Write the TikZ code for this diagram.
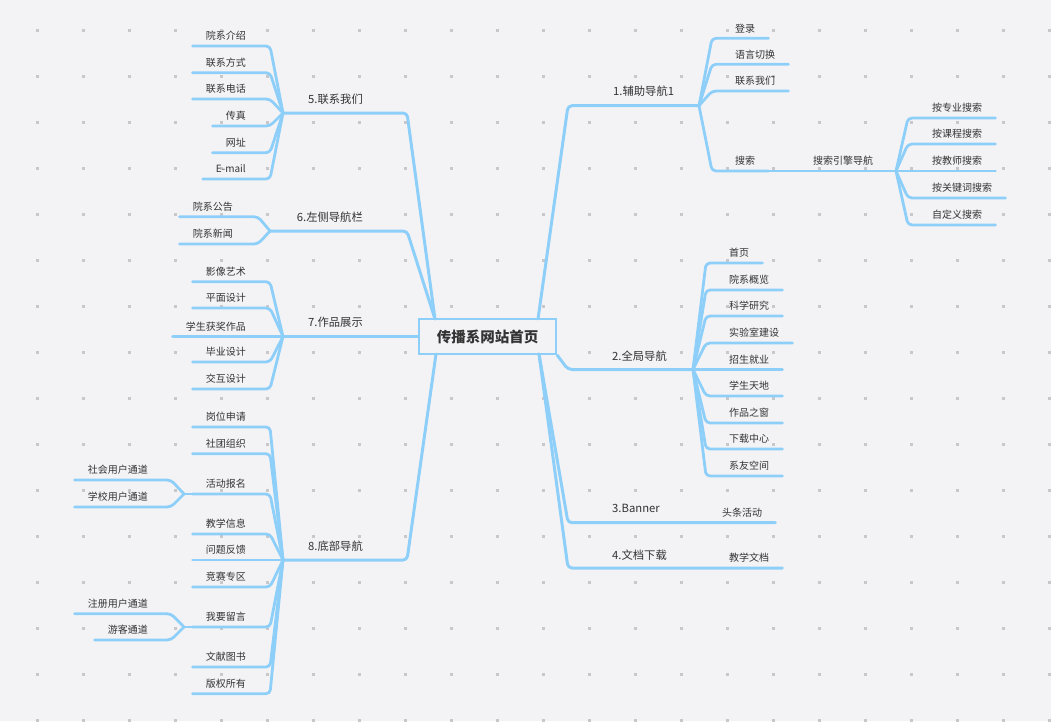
\documentclass[tikz,border=0pt]{standalone}
\usepackage{fontspec}
\setmainfont{Noto Sans CJK SC}
\definecolor{bgc}{RGB}{243,243,246}
\definecolor{dotc}{RGB}{200,200,202}
\definecolor{linec}{RGB}{142,207,249}
\definecolor{txtc}{RGB}{51,51,51}
\tikzset{
  mainline/.style={draw=linec, line width=3pt, rounded corners=4pt, line cap=round, line join=round},
  subline/.style={draw=linec, line width=2.8pt, rounded corners=4pt, line cap=round, line join=round},
  leaf/.style={inner xsep=13pt, inner ysep=6pt, text depth=0pt, font=\fontsize{10}{12}\selectfont, text=txtc},
  branchlbl/.style={inner sep=0pt, font=\fontsize{11.3}{13}\selectfont, text=txtc},
  rootbox/.style={draw=linec, line width=2.6pt, fill=bgc, minimum width=137pt, minimum height=35pt, inner sep=0pt, font=\fontsize{14.5}{16}\selectfont\bfseries, text=txtc}
}
\begin{document}
\begin{tikzpicture}[x=1pt,y=-1pt]
\useasboundingbox (0,0) rectangle (1051,721);
\fill[bgc] (0,0) rectangle (1051,721);
\foreach \i in {0,...,22} \foreach \j in {0,...,15}
  \fill[dotc] ({37+46*\i-1.5},{30+46*\j-1.5}) rectangle ++(3,3);

% root
\node[rootbox] (root) at (487.5,336.5) {\raisebox{-1.5pt}{传播系网站首页}};
\coordinate (a1) at (538,319);
\coordinate (a34) at (539,354);
\coordinate (a56) at (435,319);
\coordinate (a8) at (436,354);

% ---------- branch 1
\coordinate (c1) at (568,105.7);
\coordinate (J1) at (699,105.7);
\draw[mainline] (a1) -- (c1) -- (J1);
\node[branchlbl, anchor=base west] (b1) at (613,95.7) {1.辅助导航1};
\foreach \t/\y [count=\i] in {登录/38.3, 语言切换/64.3, 联系我们/91, 搜索/171} {
  \node[leaf, anchor=south west] (g1-\i) at (722,\y) {\t};
  \draw[subline] (J1) -- ([xshift=-10pt]g1-\i.south west) -- (g1-\i.south east);
}
\node[leaf, anchor=south west] (se) at (800,171) {搜索引擎导航};
\coordinate (Jse) at (896,171);
\draw[subline] (g1-4.south east) -- (se.south west) -- (se.south east) -- (Jse);
\foreach \t/\y [count=\i] in {按专业搜索/118, 按课程搜索/144, 按教师搜索/171, 按关键词搜索/198, 自定义搜索/225} {
  \node[leaf, anchor=south west] (gs-\i) at (919,\y) {\t};
  \draw[subline] (Jse) -- ([xshift=-11pt]gs-\i.south west) -- (gs-\i.south east);
}

% ---------- branch 2
\coordinate (c2) at (568,369.5);
\coordinate (J2) at (693,369.5);
\draw[mainline] (root.south east) -- (c2) -- (J2);
\node[branchlbl, anchor=base west] (b2) at (612,360.5) {2.全局导航};
\foreach \t/\y [count=\i] in {首页/263, 院系概览/290, 科学研究/316, 实验室建设/343, 招生就业/369.5, 学生天地/396, 作品之窗/423, 下载中心/449, 系友空间/476} {
  \node[leaf, anchor=south west] (g2-\i) at (716,\y) {\t};
  \draw[subline] (J2) -- ([xshift=-10pt]g2-\i.south west) -- (g2-\i.south east);
}

% ---------- branch 3
\coordinate (c3) at (568,522.7);
\node[branchlbl, anchor=base west] (b3) at (612,512.7) {3.Banner};
\node[leaf, anchor=south west] (g3-1) at (709,522.7) {头条活动};
\draw[mainline] (a34) -- (c3) -- (g3-1.south east);

% ---------- branch 4
\coordinate (c4) at (568,568);
\node[branchlbl, anchor=base west] (b4) at (612,559) {4.文档下载};
\node[leaf, anchor=south west] (g4-1) at (716,568) {教学文档};
\draw[mainline] (a34) -- (c4) -- (g4-1.south east);

% ---------- branch 5
\coordinate (c5) at (407,113);
\coordinate (J5) at (283,113);
\draw[mainline] (a56) -- (c5) -- (J5);
\node[branchlbl, anchor=base east] (b5) at (363,103) {5.联系我们};
\foreach \t/\y [count=\i] in {院系介绍/46, 联系方式/72.7, 联系电话/99, 传真/126, 网址/152.7, E-mail/179} {
  \node[leaf, anchor=south east] (g5-\i) at (259,\y) {\t};
  \draw[subline] (J5) -- ([xshift=11pt]g5-\i.south east) -- (g5-\i.south west);
}

% ---------- branch 6
\coordinate (c6) at (407,231);
\coordinate (J6) at (270,231);
\draw[mainline] (a56) -- (c6) -- (J6);
\node[branchlbl, anchor=base east] (b6) at (363,221) {6.左侧导航栏};
\foreach \t/\y [count=\i] in {院系公告/216.7, 院系新闻/244} {
  \node[leaf, anchor=south east] (g6-\i) at (246,\y) {\t};
  \draw[subline] (J6) -- ([xshift=12pt]g6-\i.south east) -- (g6-\i.south west);
}

% ---------- branch 7
\coordinate (J7) at (283,336.5);
\draw[mainline] (root.west) -- (J7);
\node[branchlbl, anchor=base east] (b7) at (363,326.5) {7.作品展示};
\foreach \t/\y [count=\i] in {影像艺术/281.7, 平面设计/308, 学生获奖作品/336.5, 毕业设计/362, 交互设计/389} {
  \node[leaf, anchor=south east] (g7-\i) at (259,\y) {\t};
  \draw[subline] (J7) -- ([xshift=11pt]g7-\i.south east) -- (g7-\i.south west);
}

% ---------- branch 8
\coordinate (c8) at (407,560);
\coordinate (J8) at (283,560);
\draw[mainline] (a8) -- (c8) -- (J8);
\node[branchlbl, anchor=base east] (b8) at (363,550) {8.底部导航};
\foreach \t/\y [count=\i] in {岗位申请/427, 社团组织/453.7, 活动报名/494, 教学信息/534, 问题反馈/560, 竞赛专区/587, 我要留言/627, 文献图书/667, 版权所有/693.7} {
  \node[leaf, anchor=south east] (g8-\i) at (259,\y) {\t};
  \draw[subline] (J8) -- ([xshift=11pt]g8-\i.south east) -- (g8-\i.south west);
}
\coordinate (Jact) at (184,494);
\draw[subline] (g8-3.south west) -- (Jact);
\foreach \t/\y [count=\i] in {社会用户通道/480, 学校用户通道/507} {
  \node[leaf, anchor=south east] (ga-\i) at (161,\y) {\t};
  \draw[subline] (Jact) -- ([xshift=10pt]ga-\i.south east) -- (ga-\i.south west);
}
\coordinate (Jmsg) at (184,627);
\draw[subline] (g8-7.south west) -- (Jmsg);
\foreach \t/\y [count=\i] in {注册用户通道/613.7, 游客通道/640} {
  \node[leaf, anchor=south east] (gm-\i) at (161,\y) {\t};
  \draw[subline] (Jmsg) -- ([xshift=10pt]gm-\i.south east) -- (gm-\i.south west);
}
\end{tikzpicture}
\end{document}
